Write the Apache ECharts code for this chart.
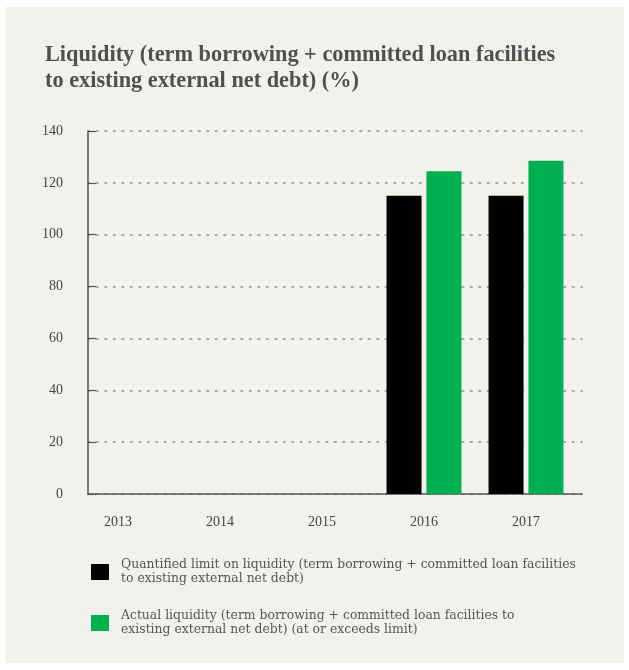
<!DOCTYPE html>
<html>
<head>
<meta charset="utf-8">
<script src="https://cdn.jsdelivr.net/npm/echarts@6/dist/echarts.min.js"></script>
<style>
  html, body { margin: 0; padding: 0; background: #ffffff; }
  #chart { width: 629px; height: 670px; }
</style>
</head>
<body>
<div id="chart"></div>
<script>
// Chart data
const years = ['2013', '2014', '2015', '2016', '2017'];
const limitValues = [null, null, null, 115, 115];
const actualValues = [null, null, null, 124.5, 128.5];
const yTicks = [0, 20, 40, 60, 80, 100, 120, 140];

const seriesNames = [
  'Quantified limit on liquidity (term borrowing + committed loan facilities\nto existing external net debt)',
  'Actual liquidity (term borrowing + committed loan facilities to\nexisting external net debt) (at or exceeds limit)'
];

const serif = '"Liberation Serif", "DejaVu Serif", serif';
const wideSerif = '"DejaVu Serif", "Liberation Serif", serif';
const yMax = yTicks[yTicks.length - 1];
const yStep = yTicks[1] - yTicks[0];

const chart = echarts.init(document.getElementById('chart'), null, { renderer: 'canvas' });

chart.setOption({
  backgroundColor: '#ffffff',
  animation: false,
  graphic: [{
    type: 'rect',
    z: -10,
    shape: { x: 5, y: 7, width: 619, height: 656 },
    style: { fill: '#f2f1ec' }
  }],
  title: {
    text: 'Liquidity (term borrowing + committed loan facilities\nto existing external net debt) (%)',
    left: 45,
    top: 42,
    padding: 0,
    textStyle: {
      fontFamily: serif,
      fontWeight: 'bold',
      fontSize: 22.3,
      lineHeight: 26,
      color: '#505050'
    }
  },
  legend: {
    orient: 'vertical',
    left: 91,
    top: 558,
    padding: 0,
    itemWidth: 18,
    itemHeight: 16,
    itemGap: 23,
    icon: 'rect',
    selectedMode: false,
    textStyle: {
      fontFamily: wideSerif,
      fontSize: 12.4,
      lineHeight: 14,
      color: '#555555',
      padding: [0, 0, 0, 7]
    },
    data: seriesNames
  },
  grid: [
    // plotting band for the bars and year labels
    { left: 67, right: 52, top: 131, bottom: 176 },
    // frame: value axis, dotted guides and baseline
    { left: 88, right: 47, top: 131, bottom: 176 }
  ],
  xAxis: [
    {
      type: 'category',
      gridIndex: 0,
      data: years,
      axisLine: { show: false },
      axisTick: { show: false },
      axisLabel: {
        margin: 21,
        fontFamily: serif,
        fontSize: 14,
        color: '#444444'
      }
    },
    {
      type: 'value',
      gridIndex: 1,
      min: 0,
      max: 1,
      axisLine: { show: true, lineStyle: { color: '#555555', width: 1.5 } },
      axisTick: { show: false },
      axisLabel: { show: false },
      splitLine: { show: false }
    }
  ],
  yAxis: [
    {
      type: 'value',
      gridIndex: 0,
      min: 0,
      max: yMax,
      interval: yStep,
      axisLine: { show: false },
      axisTick: { show: false },
      axisLabel: { show: false },
      splitLine: { show: false }
    },
    {
      type: 'value',
      gridIndex: 1,
      min: 0,
      max: yMax,
      interval: yStep,
      axisLine: { show: true, lineStyle: { color: '#555555', width: 1.5 } },
      axisTick: { show: true, inside: true, length: 8, lineStyle: { color: '#555555', width: 1.2 } },
      axisLabel: {
        margin: 25,
        fontFamily: serif,
        fontSize: 14,
        color: '#444444'
      },
      splitLine: {
        show: true,
        lineStyle: { color: '#8f8f8f', width: 1.6, type: [1.6, 6.9], cap: 'round' }
      }
    }
  ],
  series: [
    {
      name: seriesNames[0],
      type: 'bar',
      xAxisIndex: 0,
      yAxisIndex: 0,
      barWidth: 35,
      barGap: '14%',
      z: 5,
      itemStyle: { color: '#000000' },
      data: limitValues
    },
    {
      name: seriesNames[1],
      type: 'bar',
      xAxisIndex: 0,
      yAxisIndex: 0,
      barWidth: 35,
      z: 5,
      itemStyle: { color: '#00b050' },
      data: actualValues
    }
  ]
});
</script>
</body>
</html>
